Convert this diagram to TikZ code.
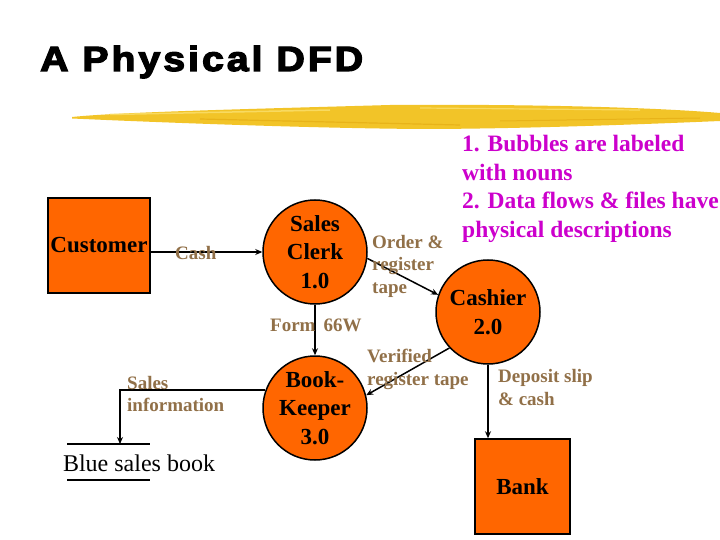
\documentclass[tikz,border=0pt]{standalone}
\usepackage{fontspec}
\setmainfont{Liberation Serif}
\newfontfamily\titlefont[BoldFeatures={FakeBold=3.5},LetterSpace=7.7]{Liberation Sans}
\usetikzlibrary{arrows.meta}
\definecolor{orangefill}{RGB}{255,102,0}
\definecolor{flowbrown}{RGB}{145,112,72}
\definecolor{notemag}{RGB}{204,0,204}
\definecolor{brushgold}{RGB}{242,196,40}
\definecolor{brushlight}{RGB}{250,224,110}
\definecolor{brushdark}{RGB}{228,172,20}
\begin{document}
\begin{tikzpicture}[x=1pt,y=-1pt,
  bubble/.style={circle,draw=black,line width=1.5pt,fill=orangefill,minimum size=104pt,inner sep=0pt,align=center,font=\fontsize{23}{28.5}\selectfont\bfseries},
  entity/.style={rectangle,draw=black,line width=1.5pt,fill=orangefill,inner sep=0pt,font=\fontsize{23}{28.5}\selectfont\bfseries},
  flow/.style={draw=black,line width=1.5pt,-{Stealth[length=7pt,width=6pt]}},
  flowlabel/.style={text=flowbrown,font=\fontsize{19}{22.5}\selectfont\bfseries,align=left,anchor=west,inner sep=0pt},
  storeline/.style={draw=black,line width=1.5pt},
]
\useasboundingbox (0,0) rectangle (720,540);
\fill[white] (0,0) rectangle (720,540);

% title
\node[anchor=base west,inner sep=0pt] (title) at (40,71)
  {\scalebox{1.12}[1]{\titlefont\bfseries\fontsize{35}{35}\selectfont A Physical DFD}};

% brush stroke
\fill[brushgold] (72,117) .. controls (120,112) and (250,109) .. (390,105)
  .. controls (520,104) and (650,107) .. (720,113) -- (720,121)
  .. controls (650,124) and (520,129) .. (420,129)
  .. controls (300,128) and (150,122) .. (72,118.5) -- cycle;
\draw[brushlight,line width=1.5pt,opacity=0.8] (110,114.5) -- (330,110);
\draw[brushlight,line width=1.2pt,opacity=0.8] (420,108) -- (640,110);
\draw[brushdark,line width=1.2pt,opacity=0.7] (200,119) -- (460,125);
\draw[brushdark,line width=1pt,opacity=0.7] (500,121) -- (700,118);

% notes
\node[anchor=west,text=notemag,font=\fontsize{23.5}{28.7}\selectfont\bfseries,align=left,inner sep=0pt] (notes) at (462,189)
  {1. Bubbles are labeled\\with nouns\\2. Data flows \& files have\\physical descriptions};

% entities and processes
\node[entity,minimum width=102pt,minimum height=95pt] (cust) at (99,245.5) {Customer};
\node[entity,minimum width=95pt,minimum height=95pt] (bank) at (522.5,486.5) {Bank};
\node[bubble] (clerk) at (315,252) {Sales\\Clerk\\1.0};
\node[bubble] (cashier) at (488,312) {Cashier\\2.0};
\node[bubble] (book) at (315,408) {Book-\\Keeper\\3.0};

% data store
\node[font=\fontsize{24}{24}\selectfont,inner sep=0pt] (store) at (139,463) {Blue sales book};
\coordinate (stTL) at (67,444);
\coordinate (stTR) at (150,444);
\coordinate (stBL) at (67,480);
\coordinate (stBR) at (150,480);
\coordinate (stIn) at (120,444);
\draw[storeline] (stTL) -- (stTR);
\draw[storeline] (stBL) -- (stBR);

% flows
\draw[flow] (cust.east |- clerk.west) -- (clerk.west);
\draw[flow] (clerk.south) -- (book.north);
\draw[flow] (clerk.-7) -- (cashier.161);
\draw[flow] (cashier.223) -- (book.14);
\draw[flow] (cashier.south) -- (cashier.south |- bank.north);
\draw[flow] (book.160) -| (stIn);

% flow labels
\node[flowlabel] (lcash) at (175,253) {Cash};
\node[flowlabel] (lform) at (270,325) {Form\hspace{8pt}66W};
\node[flowlabel] (lorder) at (372,266) {Order \&\\register\\tape};
\node[flowlabel] (lsales) at (127,394) {Sales\\information};
\node[flowlabel] (lverif) at (367,369.5) {Verified\\register tape};
\node[flowlabel] (ldep) at (498,387.5) {Deposit slip\\\& cash};
\end{tikzpicture}
\end{document}
